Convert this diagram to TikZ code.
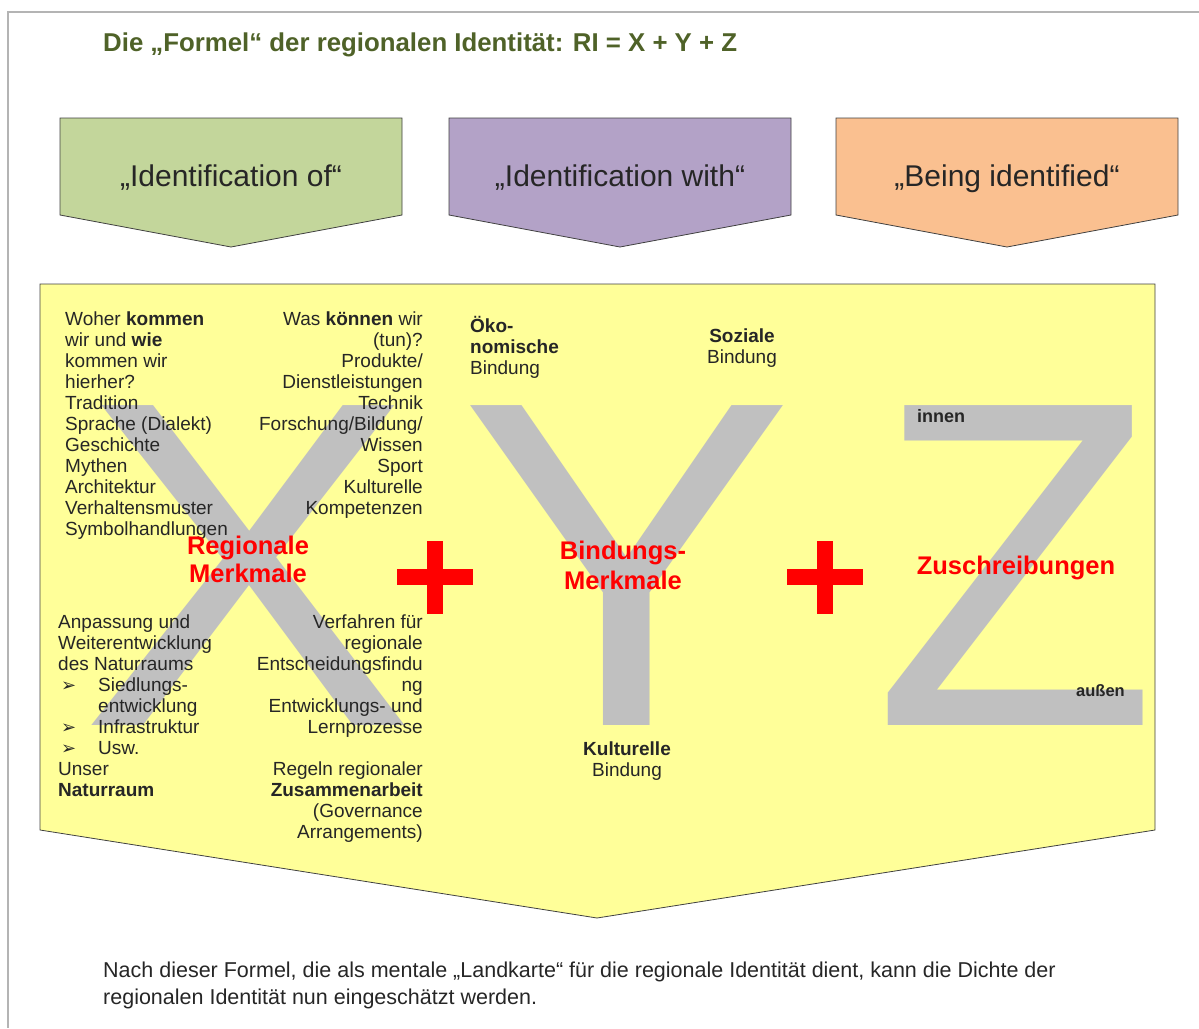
\documentclass[tikz,border=0pt]{standalone}
\usepackage{fontspec}
\setmainfont{Liberation Sans}
\newfontfamily\symfont{DejaVu Sans}
\usetikzlibrary{positioning}
\definecolor{idgreen}{HTML}{C3D69B}
\definecolor{idpurple}{HTML}{B3A2C7}
\definecolor{idorange}{HTML}{FAC090}
\definecolor{boxyellow}{HTML}{FFFF99}
\definecolor{lettergray}{HTML}{C0C0C0}
\definecolor{titlegreen}{HTML}{4F6228}
\definecolor{plusred}{HTML}{FF0000}
\definecolor{framegray}{HTML}{B4B4B4}
\newcommand{\bodyfont}{\fontsize{19}{21}\selectfont}

\begin{document}
\begin{tikzpicture}[x=1pt, y=-1pt,
    every node/.style={inner sep=0pt},
    txt/.style={font=\bodyfont, text=black!85},
    txtb/.style={font=\bodyfont\bfseries, text=black!85},
    redlbl/.style={font=\fontsize{25.5}{28}\selectfont\bfseries, text=plusred, anchor=base},
    glyph/.style={font=\fontsize{465}{465}\selectfont, text=lettergray, anchor=base},
    arrowbox/.style={draw=black!75, line width=0.8pt}]
  \useasboundingbox (0,0) rectangle (1199,1028);
  % page frame
  \draw[framegray, line width=1.2pt] (1199,12) -- (8,12) -- (8,1028);
  % title
  \node[anchor=base west, font=\fontsize{25.8}{30}\selectfont\bfseries, text=titlegreen] (title) at (103,51) {Die „Formel“ der regionalen Identität: RI = X + Y + Z};
  % the three headings
  \foreach \px/\col/\lbl [count=\i] in {60/idgreen/{„Identification of“}, 449/idpurple/{„Identification with“}, 836/idorange/{„Being identified“}} {
    \draw[arrowbox, fill=\col] (\px,118) -- ++(342,0) -- ++(0,97) -- ++(-171,32) -- ++(-171,-32) -- cycle;
    \node[anchor=base, font=\fontsize{30}{34}\selectfont, text=black!85] (head\i) at (\px+171,186) {\lbl};
  }
  % main arrow
  \draw[arrowbox, fill=boxyellow] (40,284) -- (1155,284) -- (1155,830) -- (597,918) -- (40,830) -- cycle;
  % big letters
  \node[glyph, xscale=1.08] (bigX) at (248,725) {X};
  \node[glyph, xscale=1.08] (bigY) at (627,725) {Y};
  \node[glyph] (bigZ) at (1016,725) {Z};
  % plus signs
  \foreach \cx in {435,825} {
    \fill[plusred] (\cx-38,569) rectangle (\cx+38,585);
    \fill[plusred] (\cx-8,541) rectangle (\cx+8,614);
  }
  % X: upper left
  \foreach \t [count=\i] in {Woher \textbf{kommen}, wir und \textbf{wie}, kommen wir, hierher?, Tradition, {Sprache (Dialekt)}, Geschichte, Mythen, Architektur, Verhaltensmuster, Symbolhandlungen}
    \node[txt, anchor=base west] (xa\i) at (65,325+21*\i-21) {\t};
  % X: upper right
  \foreach \t [count=\i] in {Was \textbf{können} wir, {(tun)?}, Produkte/, Dienstleistungen, Technik, {Forschung/Bildung/}, Wissen, Sport, Kulturelle, Kompetenzen}
    \node[txt, anchor=base east] (xb\i) at (423,325+21*\i-21) {\t};
  % X: lower left
  \foreach \k/\px/\t in {0/58/Anpassung und, 1/58/Weiterentwicklung, 2/58/des Naturraums, 3/98/Siedlungs-, 4/98/entwicklung, 5/98/Infrastruktur, 6/98/Usw., 7/58/Unser, 8/58/\textbf{Naturraum}}
    \node[txt, anchor=base west] (xc\k) at (\px,628+21*\k) {\t};
  \foreach \k in {3,5,6}
    \node[anchor=base west, font=\symfont\fontsize{18}{18}\selectfont, text=black!85] (bul\k) at (61,628+21*\k) {➢};
  % X: lower right
  \foreach \k/\t in {0/Verfahren für, 1/regionale, 2/Entscheidungsfindu, 3/ng, 4/Entwicklungs- und, 5/Lernprozesse, 7/Regeln regionaler, 8/\textbf{Zusammenarbeit}, 9/{(Governance}, 10/{Arrangements)}}
    \node[txt, anchor=base east] (xd\k) at (423,628+21*\k) {\t};
  \node[redlbl] (regio1) at (248,554) {Regionale};
  \node[redlbl] (regio2) at (248,582) {Merkmale};
  % Y
  \node[txtb, anchor=base west] (oeko1) at (470,332) {Öko-};
  \node[txtb, anchor=base west] (oeko2) at (470,353) {nomische};
  \node[txt, anchor=base west] (oeko3) at (470,374) {Bindung};
  \node[txtb, anchor=base] (sozi1) at (742,342) {Soziale};
  \node[txt, anchor=base] (sozi2) at (742,363) {Bindung};
  \node[txtb, anchor=base] (kult1) at (627,755) {Kulturelle};
  \node[txt, anchor=base] (kult2) at (627,776) {Bindung};
  \node[redlbl] (bind1) at (623,559) {Bindungs-};
  \node[redlbl] (bind2) at (623,589) {Merkmale};
  % Z
  \node[anchor=base west, font=\fontsize{18}{20}\selectfont\bfseries, text=black!85] (innen) at (917,422) {innen};
  \node[anchor=base east, font=\fontsize{16.5}{18}\selectfont\bfseries, text=black!85] (aussen) at (1125,696) {außen};
  \node[redlbl] (zuschr) at (1016,574) {Zuschreibungen};
  % closing note
  \node[anchor=base west, font=\fontsize{21.5}{27}\selectfont, text=black!85] (note1) at (103,977) {Nach dieser Formel, die als mentale „Landkarte“ für die regionale Identität dient, kann die Dichte der};
  \node[anchor=base west, font=\fontsize{21.5}{27}\selectfont, text=black!85] (note2) at (103,1004) {regionalen Identität nun eingeschätzt werden.};
\end{tikzpicture}
\end{document}
